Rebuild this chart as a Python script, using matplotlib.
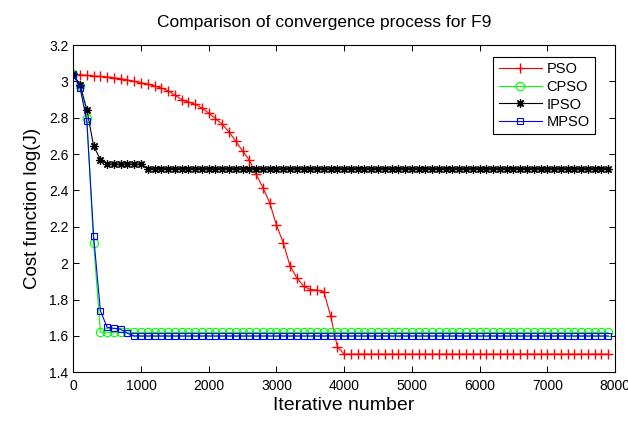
import numpy as np
import matplotlib
matplotlib.use("Agg")
import matplotlib.pyplot as plt

plt.rcParams['font.family'] = ['Liberation Sans', 'DejaVu Sans']

iterations = list(range(0, 8000, 100))

pso_head = [3.04, 3.037, 3.033, 3.03, 3.028, 3.024, 3.02, 3.015, 3.008, 3.0,
            2.993, 2.985, 2.975, 2.963, 2.948, 2.925, 2.90, 2.886, 2.875, 2.853,
            2.826, 2.795, 2.764, 2.722, 2.67, 2.618, 2.567, 2.49, 2.415, 2.333,
            2.21, 2.113, 1.986, 1.92, 1.874, 1.855, 1.852, 1.843, 1.71, 1.54]
pso = pso_head + [1.50] * (len(iterations) - len(pso_head))

cpso_head = [3.04, 2.975, 2.797, 2.113]
cpso = cpso_head + [1.62] * (len(iterations) - len(cpso_head))

ipso_head = [3.04, 2.98, 2.845, 2.645, 2.57, 2.546, 2.545, 2.545, 2.545, 2.545, 2.545]
ipso = ipso_head + [2.52] * (len(iterations) - len(ipso_head))

mpso_head = [3.035, 2.965, 2.78, 2.151, 1.738, 1.647, 1.642, 1.636, 1.614]
mpso = mpso_head + [1.60] * (len(iterations) - len(mpso_head))

fig = plt.figure(figsize=(6.28, 4.23), dpi=100)
ax = fig.add_axes([0.1167, 0.1199, 0.8626, 0.7737])

lw = 0.8
ax.plot(iterations, pso, color='#ff0000', marker='+', markersize=7, lw=lw, label='PSO')
ax.plot(iterations, cpso, color='#00ff00', marker='o', markersize=6, markerfacecolor='none',
        markeredgewidth=0.8, lw=lw, label='CPSO')
ax.plot(iterations, ipso, color='black', marker=(8, 2, 0), markersize=6, markeredgewidth=0.9,
        lw=lw, label='IPSO')
ax.plot(iterations, mpso, color='#0000ff', marker='s', markersize=5, markerfacecolor='none',
        markeredgewidth=0.8, lw=lw, label='MPSO')

ax.set_xlim(0, 8000)
ax.set_ylim(1.4, 3.2)
ax.set_xticks(range(0, 8001, 1000))
ax.set_yticks([1.4, 1.6, 1.8, 2.0, 2.2, 2.4, 2.6, 2.8, 3.0, 3.2])
ax.set_yticklabels(['1.4', '1.6', '1.8', '2', '2.2', '2.4', '2.6', '2.8', '3', '3.2'])
ax.tick_params(direction='in', top=True, right=True, labelsize=10, length=4, width=0.7)
ax.tick_params(axis='x', pad=5)
for s in ax.spines.values():
    s.set_linewidth(0.8)

ax.set_title('Comparison of convergence process for F9', fontsize=12.5, pad=13, x=0.463)
ax.set_xlabel('Iterative number', fontsize=14, labelpad=3)
ax.set_ylabel('Cost function log(J)', fontsize=13.5, labelpad=6)

leg = ax.legend(loc='upper right', bbox_to_anchor=(0.963, 0.963), fontsize=10.5,
                fancybox=False, framealpha=1, edgecolor='black', handlelength=3.0,
                borderpad=0.35, labelspacing=0.25, handletextpad=0.3, borderaxespad=0)
leg.get_frame().set_linewidth(0.8)

fig.savefig('out.png', dpi=100)
